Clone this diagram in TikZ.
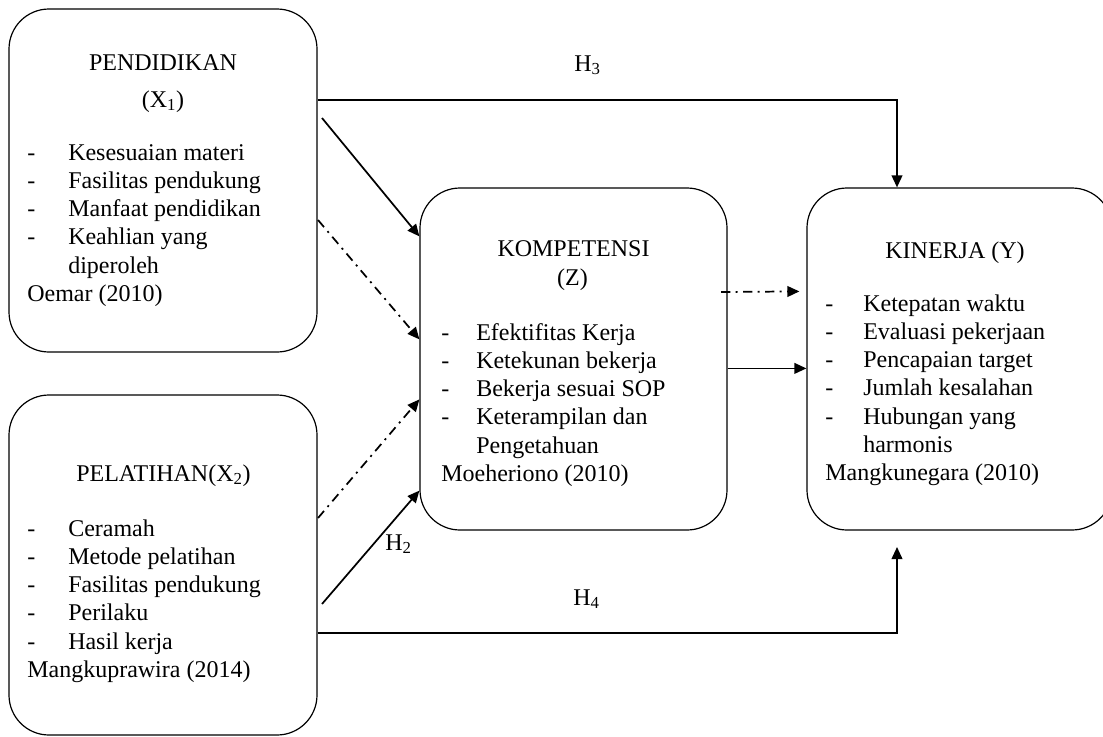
\documentclass[tikz,border=0pt]{standalone}
\usepackage{fontspec}
\setmainfont{Liberation Serif}
\usetikzlibrary{positioning, calc, arrows.meta}
\tikzset{
MyBoxStyle/.style  ={ every node/.style= {draw,
                                          line width=0.9pt,
                                          rounded corners=30pt,
                                          inner sep=0pt}},
MyTextStyle/.style ={ every node/.style= {inner sep=0pt,
                                          font=\fontsize{18}{21.2}\selectfont}},
MyArrowStyle/.style ={line width=1.3pt, -{Triangle[length=9pt,width=8pt]}},
MyDashStyle/.style  ={MyArrowStyle, dash pattern=on 7pt off 4pt on 1.5pt off 4pt},
}
\newcommand{\ItemList}[2]{\begin{tabular}[t]{@{}p{#1}@{}l@{}}#2\end{tabular}}

\begin{document}
\begin{tikzpicture}[x=0.75pt, y=-0.75pt]
\useasboundingbox (0,0) rectangle (1103,736);

\begin{scope}[MyBoxStyle]  % boxes
\node[minimum width=231pt, minimum height=257.25pt] (pend) at (163,180.5) {};
\node[minimum width=231pt, minimum height=255pt] (pel) at (163,565) {};
\node[minimum width=230.25pt, minimum height=256.5pt] (komp) at (573.5,359) {};
\node[minimum width=228.75pt, minimum height=256.5pt] (kin) at (959.5,359) {};
\end{scope}

\begin{scope}[MyTextStyle]  % texts
\node[anchor=base] (pendT) at (163,70) {PENDIDIKAN};
\node[anchor=base] (pendX) at (163,107) {(X\textsubscript{1})};
\node[anchor=base west] (pendL) at (27,160) {\ItemList{30.75pt}{
  - & Kesesuaian materi\\
  - & Fasilitas pendukung\\
  - & Manfaat pendidikan\\
  - & Keahlian yang\\
    & diperoleh\\
  \multicolumn{2}{@{}l@{}}{Oemar (2010)}}};

\node[anchor=base] (pelT) at (163.5,481) {PELATIHAN(X\textsubscript{2})};
\node[anchor=base west] (pelL) at (27,536) {\ItemList{30.75pt}{
  - & Ceramah\\
  - & Metode pelatihan\\
  - & Fasilitas pendukung\\
  - & Perilaku\\
  - & Hasil kerja\\
  \multicolumn{2}{@{}l@{}}{Mangkuprawira (2014)}}};

\node[anchor=base] (kompT) at (573.5,256) {KOMPETENSI};
\node[anchor=base] (kompZ) at (572.5,285) {(Z)};
\node[anchor=base west] (kompL) at (441,340) {\ItemList{26.25pt}{
  - & Efektifitas Kerja\\
  - & Ketekunan bekerja\\
  - & Bekerja sesuai SOP\\
  - & Keterampilan dan\\
    & Pengetahuan\\
  \multicolumn{2}{@{}l@{}}{Moeheriono (2010)}}};

\node[anchor=base] (kinT) at (955,258) {KINERJA (Y)};
\node[anchor=base west] (kinL) at (825,311) {\ItemList{28.5pt}{
  - & Ketepatan waktu\\
  - & Evaluasi pekerjaan\\
  - & Pencapaian target\\
  - & Jumlah kesalahan\\
  - & Hubungan yang\\
    & harmonis\\
  \multicolumn{2}{@{}l@{}}{Mangkunegara (2010)}}};

\node[anchor=base west] (labH3) at (574,71) {H\textsubscript{3}};
\node[anchor=base west] (labH2) at (385,550) {H\textsubscript{2}};
\node[anchor=base west] (labH4) at (573,605) {H\textsubscript{4}};
\end{scope}

\coordinate (p1) at (322,118);
\coordinate (p2) at (318,220);
\coordinate (q1) at (318,518);
\coordinate (q2) at (322,604);
\coordinate (k1) at (721,292);
\coordinate (h3) at (897,100);
\coordinate (h4) at (897,633);
\coordinate (h4t) at (897,547);

\begin{scope}  % arrows
\draw[MyArrowStyle] (pend.east |- h3) -- (h3) -- (h3 |- kin.north);
\draw[MyArrowStyle] (p1) -- ($(komp.north west)+(0,49)$);
\draw[MyDashStyle]  (p2) -- ($(komp.north west)+(0,152)$);
\draw[MyDashStyle]  (q1) -- ($(komp.north west)+(0,212)$);
\draw[MyArrowStyle] (q2) -- ($(komp.south west)+(0,-40)$);
\draw[MyDashStyle]  (k1) -- ($(kin.north west)+(-7,104)$);
\draw[MyArrowStyle] ($(komp.north east)+(0,181)$) -- ($(kin.north west)+(0,181)$);
\draw[MyArrowStyle] (pel.east |- h4) -- (h4) -- (h4t);
\end{scope}
\end{tikzpicture}
\end{document}
